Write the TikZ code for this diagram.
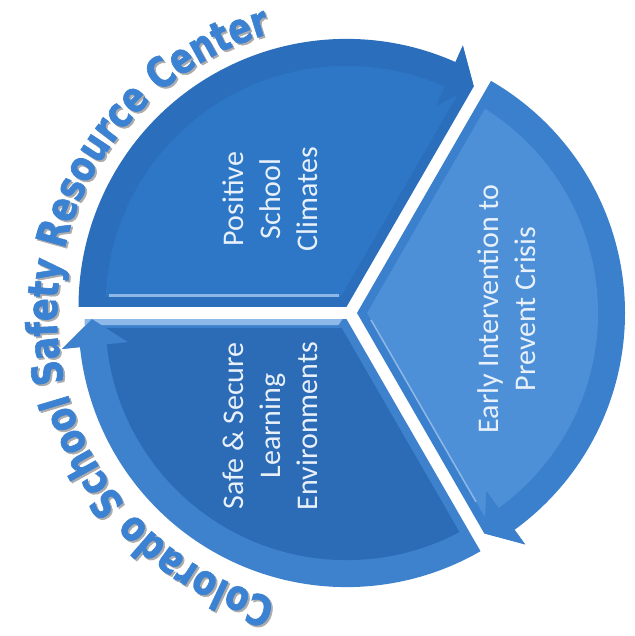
\documentclass[tikz,border=0pt]{standalone}
\usepackage{fontspec}
\setmainfont{Carlito}
\newfontfamily\curvefont{DejaVu Sans}[FakeStretch=0.8, BoldFeatures={FakeBold=1.5}]
\usetikzlibrary{decorations.text}
\definecolor{bandTL}{HTML}{2A6EBC}
\definecolor{faceTL}{HTML}{2D77C6}
\definecolor{bandR}{HTML}{3B80CC}
\definecolor{faceR}{HTML}{4E90D7}
\definecolor{bandBL}{HTML}{3E82CD}
\definecolor{faceBL}{HTML}{2C6BB5}
\definecolor{hilite}{HTML}{8DB8E8}
\definecolor{curveblue}{HTML}{3C82D2}
\definecolor{labelwhite}{HTML}{E8F0FA}
\tikzset{
  seclabel/.style={text=labelwhite, align=center, rotate=90,
    font=\fontsize{30}{37}\selectfont, inner sep=0pt},
  hl/.style={draw=hilite, line width=3pt}
}
\begin{document}
\begin{tikzpicture}[x=1pt,y=1pt]
\useasboundingbox (0,0) rectangle (634,636);
\fill[white] (0,0) rectangle (634,636);

% ---------- top-left sector ----------
\begin{scope}[shift={(346.5,329.1)}]
  \fill[bandTL] (0,0) -- (180:268) arc[start angle=180, end angle=66, radius=268]
     -- (66:286) -- (60:254.5) -- cycle;
  \begin{scope}
    \clip (0,0) circle[radius=241];
    \fill[faceTL] (120:11.5) -- +(180:400) -- +(120:460) -- +(60:400) -- cycle;
  \end{scope}
  \draw[hl] (-8,11.5) -- (-238,11.5);
  \fill[bandTL] (66:286) -- (60:254.5) -- (66:220) -- cycle;
\end{scope}

% ---------- right sector ----------
\begin{scope}[shift={(357,323)}]
  \fill[bandR] (0,0) -- (60:268) arc[start angle=60, end angle=-54, radius=268]
     -- (-54:286) -- (-60:254.5) -- cycle;
  \begin{scope}
    \clip (0,0) circle[radius=241];
    \fill[faceR] (0:10) -- +(60:400) -- +(0:460) -- +(-60:400) -- cycle;
  \end{scope}
  \draw[draw=hilite, line width=1.5pt] (0:10) ++(-60:8) -- ++(-60:210);
  \fill[bandR] (-54:286) -- (-60:254.5) -- (-54:220) -- cycle;
\end{scope}

% ---------- bottom-left sector ----------
\begin{scope}[shift={(346.5,316.9)}]
  \fill[bandBL] (0,0) -- (-60:268) arc[start angle=300, end angle=186, radius=268]
     -- (186:286) -- (180:254.5) -- cycle;
  \begin{scope}
    \clip (0,0) circle[radius=241];
    \fill[faceBL] (240:10) -- +(180:400) -- +(240:460) -- +(300:400) -- cycle;
  \end{scope}
  \fill[hilite] (-4,0) -- (-262,0) -- (-262,-6) -- (-8,-6) -- cycle;
  \fill[bandBL] (186:286) -- (180:254.5) -- (186:220) -- cycle;
\end{scope}

% ---------- labels ----------
\node[seclabel] (pos) at (270,437) {Positive\\School\\Climates};
\node[seclabel] (early) at (507,327) {Early Intervention to\\Prevent Crisis};
\node[seclabel] (safe) at (270,210) {Safe \& Secure\\Learning\\Environments};

% ---------- curved title ----------
\path[decorate, decoration={text along path,
   text={|\curvefont\bfseries\fontsize{42}{42}\selectfont|Colorado School Safety Resource Center},
   text align=center, text color=gray!65}]
   (351.8,318.7) ++(258:293) arc[start angle=258, end angle=103, radius=293];
\path[decorate, decoration={text along path,
   text={|\curvefont\bfseries\fontsize{42}{42}\selectfont|Colorado School Safety Resource Center},
   text align=center, text color=curveblue}]
   (350,320.5) ++(258:293) arc[start angle=258, end angle=103, radius=293];
\end{tikzpicture}
\end{document}
